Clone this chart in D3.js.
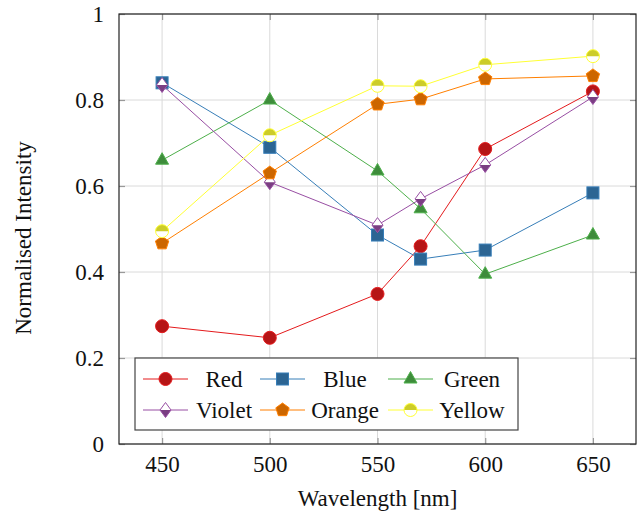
<!DOCTYPE html>
<html>
<head>
<meta charset="utf-8">
<script src="https://cdn.jsdelivr.net/npm/d3@7"></script>
<style>
  body { margin: 0; background: #fff; }
</style>
</head>
<body>
<svg id="chart" width="641" height="519"></svg>
<script>
// wavelengths (nm)
const wavelengths = [450, 500, 550, 570, 600, 650];

const red    = [0.274, 0.247, 0.349, 0.460, 0.686, 0.820];
const blue   = [0.840, 0.690, 0.486, 0.430, 0.451, 0.584];
const green  = [0.660, 0.800, 0.635, 0.547, 0.395, 0.486];
const violet = [0.835, 0.609, 0.509, 0.570, 0.649, 0.807];
const orange = [0.467, 0.630, 0.790, 0.802, 0.849, 0.856];
const yellow = [0.495, 0.718, 0.833, 0.832, 0.882, 0.902];

const seriesNames = ["Red", "Blue", "Green", "Violet", "Orange", "Yellow"];
const xTicks = [450, 500, 550, 600, 650];
const yTicks = [0, 0.2, 0.4, 0.6, 0.8, 1];

const series = [
  { name: "Red",    values: red,    line: "#e41a1c", fill: "#b61516", mark: "circle" },
  { name: "Blue",   values: blue,   line: "#377eb8", fill: "#2c6593", mark: "square" },
  { name: "Green",  values: green,  line: "#4daf4a", fill: "#3e8c3b", mark: "triangle" },
  { name: "Violet", values: violet, line: "#984ea3", fill: "#7a3e82", mark: "halfdiamond" },
  { name: "Orange", values: orange, line: "#ff7f00", fill: "#cc6600", mark: "pentagon" },
  { name: "Yellow", values: yellow, line: "#ffff33", fill: "#cccc29", mark: "halfcircle" }
];

const FONT = '"Liberation Serif"';
const FS = 23;
const margin = { top: 14, right: 5, bottom: 75, left: 119 };
const width = 641 - margin.left - margin.right;
const height = 519 - margin.top - margin.bottom;

const svg = d3.select("#chart");
const g = svg.append("g").attr("transform", `translate(${margin.left},${margin.top})`);

const x = d3.scaleLinear().domain([430, 670]).range([0, width]);
const y = d3.scaleLinear().domain([0, 1]).range([height, 0]);

// grid
g.append("g").selectAll("line").data(xTicks).enter().append("line")
  .attr("x1", d => x(d)).attr("x2", d => x(d)).attr("y1", 0).attr("y2", height)
  .attr("stroke", "#dadada").attr("stroke-width", 1);
g.append("g").selectAll("line").data(yTicks).enter().append("line")
  .attr("x1", 0).attr("x2", width).attr("y1", d => y(d)).attr("y2", d => y(d))
  .attr("stroke", "#dadada").attr("stroke-width", 1);

// inward ticks on all four sides
const fmt = d => d === 0 || d === 1 ? String(d) : d3.format(".1f")(d);
const tickStyle = sel => {
  sel.attr("font-family", FONT).attr("font-size", FS);
  sel.select(".domain").remove();
  sel.selectAll(".tick line").attr("stroke", "#999").attr("stroke-width", 1.2);
  sel.selectAll(".tick text").attr("fill", "#111");
};
g.append("g").attr("transform", `translate(0,${height})`)
  .call(d3.axisBottom(x).tickValues(xTicks).tickSizeInner(-6).tickSizeOuter(0).tickPadding(12))
  .call(tickStyle);
g.append("g")
  .call(d3.axisTop(x).tickValues(xTicks).tickSizeInner(-6).tickSizeOuter(0).tickFormat(""))
  .call(tickStyle);
g.append("g")
  .call(d3.axisLeft(y).tickValues(yTicks).tickSizeInner(-6).tickSizeOuter(0).tickPadding(15).tickFormat(fmt))
  .call(tickStyle);
g.append("g").attr("transform", `translate(${width},0)`)
  .call(d3.axisRight(y).tickValues(yTicks).tickSizeInner(-6).tickSizeOuter(0).tickFormat(""))
  .call(tickStyle);

// frame
g.append("rect").attr("width", width).attr("height", height)
  .attr("fill", "none").attr("stroke", "#222").attr("stroke-width", 1.2);

// markers
function drawMark(sel, s) {
  const sw = 1;
  if (s.mark === "circle") {
    sel.append("circle").attr("r", 6.5).attr("fill", s.fill).attr("stroke", s.line).attr("stroke-width", sw);
  } else if (s.mark === "square") {
    sel.append("rect").attr("x", -6).attr("y", -6).attr("width", 12).attr("height", 12)
      .attr("fill", s.fill).attr("stroke", s.line).attr("stroke-width", sw);
  } else if (s.mark === "triangle") {
    sel.append("path").attr("d", "M0,-7.5L6.5,4L-6.5,4Z")
      .attr("fill", s.fill).attr("stroke", s.line).attr("stroke-width", sw);
  } else if (s.mark === "pentagon") {
    const pts = d3.range(5).map(i => {
      const a = -Math.PI / 2 + i * 2 * Math.PI / 5;
      return [7 * Math.cos(a), 7 * Math.sin(a)];
    });
    sel.append("path").attr("d", "M" + pts.join("L") + "Z")
      .attr("fill", s.fill).attr("stroke", s.line).attr("stroke-width", sw);
  } else if (s.mark === "halfdiamond") {
    sel.append("path").attr("d", "M0,-7.5L5.5,0L0,7.5L-5.5,0Z").attr("fill", "#fff");
    sel.append("path").attr("d", "M-5.5,0L0,7.5L5.5,0Z").attr("fill", s.fill);
    sel.append("path").attr("d", "M0,-7.5L5.5,0L0,7.5L-5.5,0Z")
      .attr("fill", "none").attr("stroke", s.line).attr("stroke-width", sw);
  } else if (s.mark === "halfcircle") {
    sel.append("circle").attr("r", 6.5).attr("fill", "#fff");
    sel.append("path").attr("d", "M-6.5,0A6.5,6.5 0 0 1 6.5,0Z").attr("fill", s.fill);
    sel.append("circle").attr("r", 6.5).attr("fill", "none").attr("stroke", s.line).attr("stroke-width", sw);
  }
}

const line = d3.line().x(d => x(d[0])).y(d => y(d[1]));

series.forEach(s => {
  const pts = wavelengths.map((w, i) => [w, s.values[i]]);
  const sg = g.append("g");
  sg.append("path").datum(pts).attr("d", line)
    .attr("fill", "none").attr("stroke", s.line).attr("stroke-width", 1);
  sg.selectAll("g.mk").data(pts).enter().append("g").attr("class", "mk")
    .attr("transform", d => `translate(${x(d[0])},${y(d[1])})`)
    .each(function () { drawMark(d3.select(this), s); });
});

// axis labels
svg.append("text").attr("x", margin.left + width / 2).attr("y", 506)
  .attr("text-anchor", "middle").attr("font-family", FONT).attr("font-size", FS)
  .attr("fill", "#111").text("Wavelength [nm]");
svg.append("text").attr("transform", `translate(31,${margin.top + height / 2 + 9}) rotate(-90)`)
  .attr("text-anchor", "middle").attr("font-family", FONT).attr("font-size", FS)
  .attr("fill", "#111").text("Normalised Intensity");

// legend
const lg = svg.append("g").attr("transform", "translate(135,358)");
lg.append("rect").attr("width", 383).attr("height", 72)
  .attr("fill", "#fff").attr("stroke", "#444").attr("stroke-width", 1.2);
const colX = [8, 125, 253];
const textCx = [89, 210, 337];
const rowY = [21, 52];
series.forEach((s, i) => {
  const c = i % 3, r = Math.floor(i / 3);
  const eg = lg.append("g").attr("transform", `translate(${colX[c]},${rowY[r]})`);
  eg.append("line").attr("x1", 0).attr("x2", 45).attr("stroke", s.line).attr("stroke-width", 1);
  drawMark(eg.append("g").attr("transform", "translate(22.5,0)"), s);
  lg.append("text").attr("x", textCx[c]).attr("y", rowY[r]).attr("dy", "0.33em")
    .attr("text-anchor", "middle").attr("font-family", FONT).attr("font-size", FS)
    .attr("fill", "#111").text(seriesNames[i]);
});
</script>
</body>
</html>
